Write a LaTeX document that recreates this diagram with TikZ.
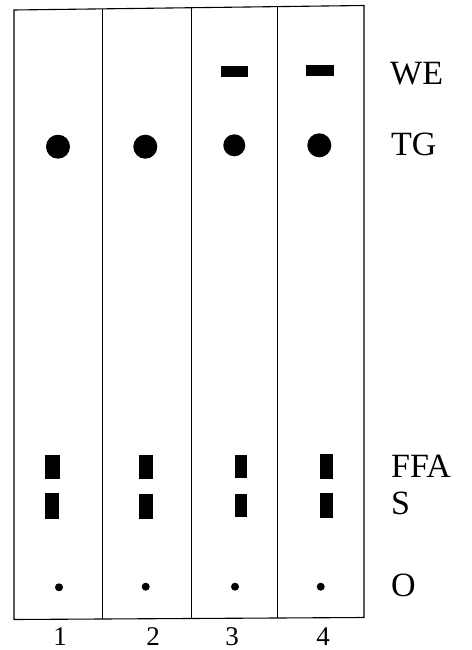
\documentclass[tikz,border=0pt]{standalone}
\usepackage{fontspec}
\setmainfont{Liberation Serif}
\begin{document}
\begin{tikzpicture}[x=1pt,y=-1pt,
  band/.style={fill=black,draw=none,inner sep=0,minimum width=14pt,minimum height=24.5pt},
  webar/.style={fill=black,draw=none,inner sep=0,minimum width=27pt,minimum height=11pt},
  tgspot/.style={circle,fill=black,draw=none,inner sep=0,minimum size=24pt},
  ospot/.style={circle,fill=black,draw=none,inner sep=0,minimum size=8pt},
  lbl/.style={anchor=base west,inner sep=0,font=\fontsize{34}{38}\selectfont},
  num/.style={anchor=base,inner sep=0,font=\fontsize{27}{30}\selectfont},
  plate/.style={line width=1.1pt,line join=miter}]
\useasboundingbox[fill=white] (0,0) rectangle (471,650);
% plate frame
\coordinate (tl) at (14,10);
\coordinate (tr) at (364,5.5);
\coordinate (br) at (364,617.5);
\coordinate (bl) at (14,619.5);
\draw[plate] (tl) -- (tr) -- (br) -- (bl) -- cycle;
% lane dividers
\coordinate (d1t) at (102.5,8.9);  \coordinate (d1b) at (102.5,619.0);
\coordinate (d2t) at (191.5,7.7);  \coordinate (d2b) at (191.5,618.5);
\coordinate (d3t) at (277.5,6.6);  \coordinate (d3b) at (277.5,618.0);
\draw[plate] (d1t) -- (d1b);
\draw[plate] (d2t) -- (d2b);
\draw[plate] (d3t) -- (d3b);
% WE
\node[webar] (we3) at (234,72) {};
\node[webar,minimum width=28pt] (we4) at (320,70.8) {};
% TG
\node[tgspot] (tg1) at (58,146.7) {};
\node[tgspot] (tg2) at (145.3,146.7) {};
\node[tgspot,minimum size=22pt] (tg3) at (234.3,145.3) {};
\node[tgspot] (tg4) at (319.3,145.3) {};
% FFA
\node[band,minimum width=15pt,minimum height=24pt] (ffa1) at (52.3,467) {};
\node[band,minimum height=24pt] (ffa2) at (146.3,467.2) {};
\node[band,minimum width=12.5pt,minimum height=23.5pt] (ffa3) at (241.2,466.7) {};
\node[band,minimum width=13pt,minimum height=25pt] (ffa4) at (326.5,466) {};
% S
\node[band,minimum width=14.5pt,minimum height=26pt] (s1) at (52,506.3) {};
\node[band,minimum height=25pt] (s2) at (146.3,506.7) {};
\node[band,minimum width=12.5pt,minimum height=23.5pt] (s3) at (241,505.7) {};
\node[band,minimum width=13pt,minimum height=25.5pt] (s4) at (326.5,505.5) {};
% origin
\node[ospot] (o1) at (59,587.3) {};
\node[ospot] (o2) at (145.7,586.7) {};
\node[ospot] (o3) at (235,586.7) {};
\node[ospot] (o4) at (320.7,586.7) {};
% labels
\node[lbl] (lwe) at (390,85) {WE};
\node[lbl] (ltg) at (391,155) {TG};
\node[lbl] (lffa) at (391,477) {FFA};
\node[lbl] (ls) at (391,514) {S};
\node[lbl] (lo) at (391,596) {O};
% lane numbers
\node[num] (n1) at (60,645) {1};
\node[num] (n2) at (153,645) {2};
\node[num] (n3) at (232,645) {3};
\node[num] (n4) at (323,645) {4};
\end{tikzpicture}
\end{document}
